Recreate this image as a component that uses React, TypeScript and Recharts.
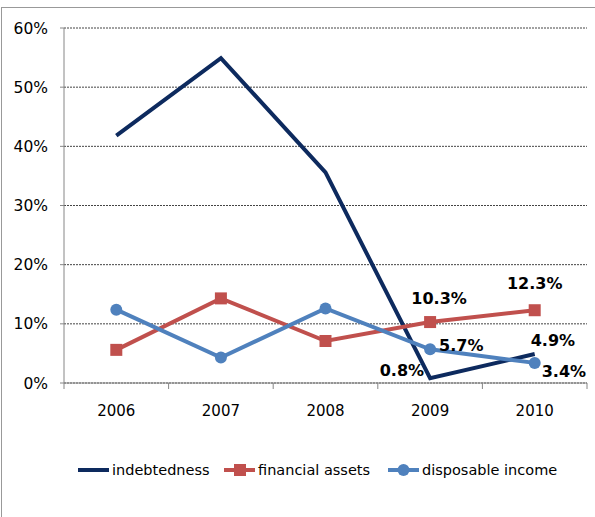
import { CartesianGrid, LabelList, Legend, Line, LineChart, XAxis, YAxis } from "recharts";

const years = ["2006", "2007", "2008", "2009", "2010"];
const indebtedness = [41.8, 54.9, 35.6, 0.8, 4.9];
const financialAssets = [5.6, 14.3, 7.1, 10.3, 12.3];
const disposableIncome = [12.4, 4.3, 12.6, 5.7, 3.4];
const yTicks = [0, 10, 20, 30, 40, 50, 60];
const labelledYears = ["2009", "2010"];

const data = years.map((year, i) => ({
  year,
  indebtedness: indebtedness[i],
  financialAssets: financialAssets[i],
  disposableIncome: disposableIncome[i],
}));

const FONT = "'DejaVu Sans', sans-serif";
const W = 595;
const H = 517;
const MARGIN = { top: 28, right: 8, left: 0, bottom: 35 };
const Y_AXIS_W = 64;
const BAND = (W - MARGIN.left - MARGIN.right - Y_AXIS_W) / years.length;

const NAVY = "#0d2a5e";
const RED = "#c0504d";
const BLUE = "#4f81bd";

type LabelPos = { dx: number; dy: number; anchor: "start" | "middle" | "end" };

// offsets of the value labels for 2009 and 2010, per series
const labelPos: Record<string, LabelPos[]> = {
  indebtedness: [
    { dx: -6, dy: -8, anchor: "end" },
    { dx: -4, dy: -14, anchor: "start" },
  ],
  financialAssets: [
    { dx: 9, dy: -24, anchor: "middle" },
    { dx: 0, dy: -27, anchor: "middle" },
  ],
  disposableIncome: [
    { dx: 9, dy: -4, anchor: "start" },
    { dx: 7, dy: 9, anchor: "start" },
  ],
};

function makeLabel(key: string) {
  return (props: any) => {
    const { x, y, value, index } = props;
    const k = labelledYears.indexOf(years[index]);
    if (k < 0) return null;
    const p = labelPos[key][k];
    return (
      <text
        x={x + p.dx}
        y={y + p.dy}
        textAnchor={p.anchor}
        dominantBaseline="central"
        fontFamily={FONT}
        fontSize={16}
        fontWeight="bold"
        fill="#000"
      >
        {value}%
      </text>
    );
  };
}

function YearTick(props: any) {
  const { x, y, payload, index } = props;
  const axisY = y - 22;
  const isLast = index === years.length - 1;
  return (
    <g>
      <line x1={x - BAND / 2} x2={x - BAND / 2} y1={axisY} y2={axisY + 6} stroke="#868686" />
      {isLast && <line x1={x + BAND / 2} x2={x + BAND / 2} y1={axisY} y2={axisY + 6} stroke="#868686" />}
      <text x={x} y={y} dy="0.71em" textAnchor="middle" fontFamily={FONT} fontSize={15} fill="#000">
        {payload.value}
      </text>
    </g>
  );
}

const SquareDot = (props: any) => {
  const { cx, cy, index } = props;
  return <rect key={`sq-${index}`} x={cx - 6} y={cy - 6} width={12} height={12} fill={RED} />;
};

const CircleDot = (props: any) => {
  const { cx, cy, index } = props;
  return <circle key={`c-${index}`} cx={cx} cy={cy} r={6} fill={BLUE} />;
};

const legendItems = [
  { name: "indebtedness", color: NAVY, marker: "none", width: 146 },
  { name: "financial assets", color: RED, marker: "square", width: 164 },
  { name: "disposable income", color: BLUE, marker: "circle", width: 170 },
];

function LegendContent() {
  return (
    <div style={{ display: "flex", alignItems: "center", height: 24, paddingLeft: 78 }}>
      {legendItems.map((it) => (
        <div key={it.name} style={{ display: "flex", alignItems: "center", width: it.width }}>
          <svg width={31} height={14} style={{ marginRight: 3, flexShrink: 0 }}>
            <line x1={0} x2={31} y1={7} y2={7} stroke={it.color} strokeWidth={4} />
            {it.marker === "square" && <rect x={10} y={1} width={12} height={12} fill={it.color} />}
            {it.marker === "circle" && <circle cx={15.5} cy={7} r={6} fill={it.color} />}
          </svg>
          <span style={{ fontFamily: FONT, fontSize: 14.5, color: "#000", whiteSpace: "nowrap" }}>{it.name}</span>
        </div>
      ))}
    </div>
  );
}

export default function App() {
  return (
    <div style={{ position: "absolute", left: 0, top: 0, width: W, height: H, background: "#fff", overflow: "hidden" }}>
      <div
        style={{
          position: "absolute",
          left: 1,
          top: 7,
          width: W + 10,
          height: H + 10,
          borderLeft: "1px solid #999",
          borderTop: "1px solid #999",
        }}
      />
      <div style={{ position: "absolute", left: 0, top: 0 }}>
        <LineChart width={W} height={H} data={data} margin={MARGIN}>
          <CartesianGrid vertical={false} stroke="#444" strokeDasharray="2 1" />
          <XAxis
            dataKey="year"
            height={75}
            padding={{ left: BAND / 2, right: BAND / 2 }}
            tickLine={false}
            tickSize={0}
            tickMargin={22}
            axisLine={{ stroke: "#868686" }}
            tick={<YearTick />}
            interval={0}
          />
          <YAxis
            width={Y_AXIS_W}
            domain={[0, 60]}
            ticks={yTicks}
            tickFormatter={(v) => `${v}%`}
            tickSize={4}
            tickMargin={12}
            axisLine={{ stroke: "#868686" }}
            tickLine={{ stroke: "#868686" }}
            tick={{ fontFamily: FONT, fontSize: 15.5, fill: "#000" }}
          />
          <Legend verticalAlign="bottom" align="left" content={<LegendContent />} />
          <Line
            dataKey="indebtedness"
            stroke={NAVY}
            strokeWidth={4}
            dot={false}
            activeDot={false}
            isAnimationActive={false}
          >
            <LabelList dataKey="indebtedness" content={makeLabel("indebtedness")} />
          </Line>
          <Line
            dataKey="financialAssets"
            stroke={RED}
            strokeWidth={4}
            dot={SquareDot}
            activeDot={false}
            isAnimationActive={false}
          >
            <LabelList dataKey="financialAssets" content={makeLabel("financialAssets")} />
          </Line>
          <Line
            dataKey="disposableIncome"
            stroke={BLUE}
            strokeWidth={4}
            dot={CircleDot}
            activeDot={false}
            isAnimationActive={false}
          >
            <LabelList dataKey="disposableIncome" content={makeLabel("disposableIncome")} />
          </Line>
        </LineChart>
      </div>
    </div>
  );
}
